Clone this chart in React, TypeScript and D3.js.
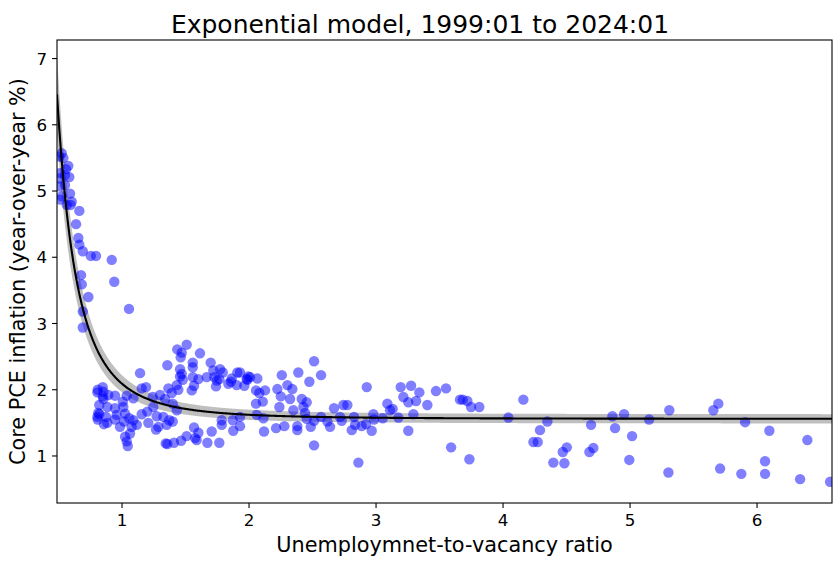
import React from "react";
import * as d3 from "d3";

// Scatter data: unemployment-to-vacancy ratio (x) and core PCE inflation (y)
const uvRatio: number[] = [
  0.525, 0.506, 0.538, 0.577, 0.559, 0.512, 0.551, 0.585, 0.506, 0.551, 0.506, 0.591, 0.525, 0.512, 0.604, 0.565, 0.596, 0.664, 0.638, 0.656, 0.664, 0.691, 0.754, 0.795, 0.919, 0.677, 0.939, 0.683, 0.735, 1.055, 0.691, 0.691,
  1.435, 1.509, 1.470, 1.462, 1.614, 1.357, 1.557, 1.557, 1.698, 1.457, 1.470, 1.142, 1.772, 1.793, 1.719, 1.908, 1.457, 1.478, 1.557, 1.667, 1.601, 1.727, 1.746, 1.766, 1.864, 1.858, 1.982, 1.994, 1.431, 1.567, 1.549, 1.740, 1.837, 1.903, 1.963, 1.155, 1.189, 0.809, 0.848, 0.853, 0.892, 0.945, 0.806, 0.848, 1.037, 1.089, 1.242, 1.299, 1.365, 1.339, 1.391, 1.443, 1.006, 0.853, 0.821, 0.884, 1.010, 1.246, 1.399, 1.431, 0.945, 0.813, 0.806, 0.821, 0.874, 0.958, 1.024, 1.155, 1.199, 1.273, 1.325, 1.372, 1.399, 0.809, 0.858, 0.884, 0.945, 0.984, 1.016, 1.057, 1.089, 1.116, 1.076, 1.207, 1.286, 1.352, 1.063, 1.037, 1.045, 1.024, 1.268, 1.344, 1.357, 1.409, 1.465, 1.509, 1.567, 1.601, 1.588, 1.575, 1.672, 1.706, 1.766, 1.785, 1.785, 1.872, 1.876, 1.929,
  1.929, 1.987, 2.008, 2.065, 2.055, 2.081, 2.126, 2.055, 2.108, 1.929, 2.061, 2.113, 2.118, 2.213, 2.278, 2.258, 2.388, 2.512, 2.567, 2.475, 2.302, 2.341, 2.223, 2.250, 2.323, 2.415, 2.454, 2.428, 2.239, 2.349, 2.441, 2.454, 2.486, 2.380, 2.380, 2.512, 2.567, 2.617, 2.638, 2.669, 2.717, 2.743, 2.774, 2.730, 2.809, 2.827, 2.835, 2.887, 2.921, 2.966, 2.979, 2.984, 3.053, 3.089, 3.110, 3.131, 3.176, 3.194, 3.215, 3.254, 3.276, 3.315, 3.341, 3.294, 3.254, 3.404, 3.472, 3.551, 3.661, 3.591, 2.512, 2.861, 2.927,
  3.683, 3.719, 3.748, 3.813, 4.160, 4.042, 4.349, 4.291, 4.239, 4.273, 3.735, 4.396, 4.483, 4.470, 4.502, 4.680, 4.711, 4.693, 4.861, 4.953, 4.882, 5.016, 4.994, 5.150,
  5.309, 5.656, 5.695, 5.906, 6.097, 6.396, 5.302, 5.709, 5.876, 6.063, 6.063, 6.339, 6.575,
];

const corePce: number[] = [
  5.57, 5.52, 5.50, 5.38, 5.33, 5.27, 5.24, 5.21, 5.19, 5.09, 5.07, 4.96, 4.92, 4.87, 4.84, 4.79, 4.79, 4.70, 4.50, 4.29, 4.19, 4.09, 4.02, 4.02, 3.96, 3.73, 3.63, 3.59, 3.40, 3.22, 3.18, 2.94,
  2.61, 2.68, 2.56, 2.49, 2.55, 2.37, 2.41, 2.34, 2.41, 2.31, 2.24, 2.25, 2.31, 2.26, 2.29, 2.26, 2.20, 2.15, 2.19, 2.19, 2.16, 2.19, 2.14, 2.16, 2.17, 2.12, 2.16, 2.20, 2.07, 2.06, 1.99, 2.05, 2.09, 2.07, 2.06, 2.02, 2.04, 2.00, 2.04, 1.97, 1.92, 1.91, 1.96, 1.90, 1.91, 1.87, 1.89, 1.92, 2.02, 1.86, 1.95, 2.00, 1.82, 1.86, 1.77, 1.74, 1.74, 1.74, 1.79, 1.69, 1.72, 1.65, 1.59, 1.63, 1.59, 1.62, 1.64, 1.63, 1.67, 1.60, 1.59, 1.54, 1.52, 1.55, 1.48, 1.50, 1.55, 1.44, 1.52, 1.57, 1.54, 1.47, 1.44, 1.50, 1.44, 1.47, 1.34, 1.22, 1.15, 1.29, 1.40, 1.19, 1.18, 1.20, 1.23, 1.30, 1.43, 1.35, 1.24, 1.27, 1.20, 1.37, 1.20, 1.54, 1.47, 1.54, 1.38, 1.45,
  2.26, 2.15, 2.19, 2.17, 1.99, 1.95, 1.99, 1.79, 1.82, 1.59, 1.62, 1.57, 1.37, 1.42, 1.45, 2.22, 2.26, 2.43, 2.22, 2.12, 2.07, 2.01, 2.01, 1.90, 1.86, 1.86, 1.81, 1.74, 1.74, 1.69, 1.65, 1.56, 1.44, 1.45, 1.39, 1.53, 1.59, 1.52, 1.44, 1.72, 1.59, 1.77, 1.77, 1.53, 1.39, 1.59, 1.47, 1.45, 1.48, 1.38, 1.63, 1.55, 1.57, 1.79, 1.69, 1.71, 1.58, 2.04, 1.89, 1.81, 2.06, 1.83, 1.96, 1.63, 1.38, 1.77, 1.98, 2.02, 1.85, 1.13, 1.16, 0.90, 2.04,
  1.85, 1.83, 1.74, 1.74, 1.85, 1.58, 1.52, 1.39, 1.21, 1.21, 0.95, 0.90, 0.89, 1.06, 1.13, 1.06, 1.12, 1.47, 1.60, 1.63, 1.42, 1.30, 0.94, 1.55,
  1.69, 1.69, 1.79, 1.51, 1.38, 1.24, 0.75, 0.81, 0.73, 0.92, 0.73, 0.65, 0.61,
];

const xTicks = [1, 2, 3, 4, 5, 6];
const yTicks = [1, 2, 3, 4, 5, 6, 7];

// fitted model parameters: y = a + b * x^(-c)
const modelA = 1.56;
const modelB = 0.53;
const modelC = 3.1;
const bandBase = 0.07;
const bandRel = 0.11;

const W = 840;
const H = 565;
const M = { left: 57, right: 832, top: 40, bottom: 503 };
const FONT = "'DejaVu Sans', sans-serif";

export default function App() {
  const x = d3.scaleLinear().domain([0.488, 6.59]).range([M.left, M.right]);
  const y = d3.scaleLinear().domain([0.29, 7.28]).range([M.bottom, M.top]);

  const xs = d3.range(0.488, 6.6, 0.005);
  const model = (v: number) => modelA + modelB * Math.pow(v, -modelC);
  const curve = xs.map((v) => ({ x: v, y: model(v) }));

  const line = d3
    .line<{ x: number; y: number }>()
    .x((d) => x(d.x))
    .y((d) => y(d.y));
  const area = d3
    .area<{ x: number; y: number }>()
    .x((d) => x(d.x))
    .y0((d) => y(d.y - (bandBase + bandRel * (d.y - modelA))))
    .y1((d) => y(d.y + (bandBase + bandRel * (d.y - modelA))));

  const pts = uvRatio.map((v, i) => ({ x: v, y: corePce[i] }));

  return (
    <svg
      width={W}
      height={H}
      style={{ position: "absolute", left: 0, top: 0, background: "white" }}
      fontFamily={FONT}
    >
      <defs>
        <clipPath id="plotclip">
          <rect x={M.left} y={M.top} width={M.right - M.left} height={M.bottom - M.top} />
        </clipPath>
      </defs>
      <rect x={0} y={0} width={W} height={H} fill="white" />
      <g clipPath="url(#plotclip)">
        <path d={area(curve) || ""} fill="gray" fillOpacity={0.5} stroke="none" />
        {pts.map((p, i) => (
          <circle key={i} cx={x(p.x)} cy={y(p.y)} r={5.2} fill="blue" fillOpacity={0.5} />
        ))}
        <path d={line(curve) || ""} fill="none" stroke="black" strokeWidth={2.1} />
      </g>
      {/* spines */}
      <rect
        x={M.left}
        y={M.top}
        width={M.right - M.left}
        height={M.bottom - M.top}
        fill="none"
        stroke="black"
        strokeWidth={1.1}
      />
      {/* x ticks */}
      {xTicks.map((t) => (
        <g key={"x" + t}>
          <line x1={x(t)} x2={x(t)} y1={M.bottom} y2={M.bottom + 4.9} stroke="black" strokeWidth={1.1} />
          <text x={x(t)} y={526} textAnchor="middle" fontSize={16.7} fill="black">
            {t}
          </text>
        </g>
      ))}
      {/* y ticks */}
      {yTicks.map((t) => (
        <g key={"y" + t}>
          <line x1={M.left - 4.9} x2={M.left} y1={y(t)} y2={y(t)} stroke="black" strokeWidth={1.1} />
          <text x={47} y={y(t)} dy="0.36em" textAnchor="end" fontSize={16.7} fill="black">
            {t}
          </text>
        </g>
      ))}
      <text x={W / 2} y={33} textAnchor="middle" fontSize={25} fill="black">
        Exponential model, 1999:01 to 2024:01
      </text>
      <text x={(M.left + M.right) / 2} y={552} textAnchor="middle" fontSize={20.8} fill="black">
        Unemploymnet-to-vacancy ratio
      </text>
      <text
        transform={`translate(25,${(M.top + M.bottom) / 2}) rotate(-90)`}
        textAnchor="middle"
        fontSize={20.8}
        fill="black"
      >
        Core PCE inflation (year-over-year %)
      </text>
    </svg>
  );
}
